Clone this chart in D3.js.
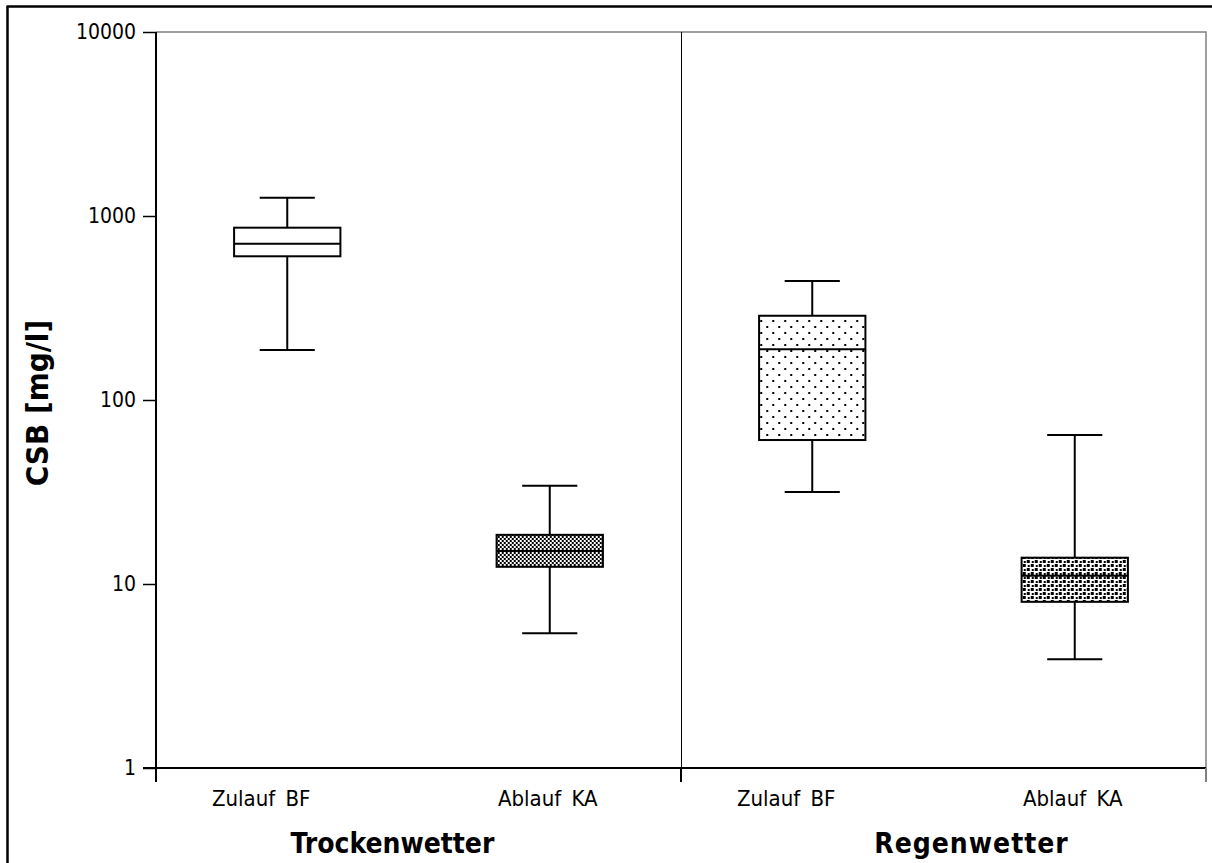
<!DOCTYPE html>
<html>
<head>
<meta charset="utf-8">
<script src="https://cdn.jsdelivr.net/npm/d3@7"></script>
<style>
  html, body { margin: 0; padding: 0; background: #fff; }
  svg { display: block; }
  text { font-family: "DejaVu Sans Condensed", "DejaVu Sans", sans-serif; fill: #000; }
</style>
</head>
<body>
<svg id="chart" width="1212" height="863"></svg>
<script>
// CSB concentrations (mg/l), box statistics per sampling point
const groups = ["Trockenwetter", "Regenwetter"];
const categories = ["Zulauf BF", "Ablauf KA", "Zulauf BF", "Ablauf KA"];
const categoryGroup = [0, 0, 1, 1];
const whiskerLow = [187, 5.4, 31.6, 3.9];
const q1 = [604, 12.4, 60.6, 8.0];
const median = [707, 15.1, 189, 11.1];
const q3 = [864, 18.5, 287, 13.9];
const whiskerHigh = [1258, 34.2, 443, 64.5];
const yTicks = [1, 10, 100, 1000, 10000];

const boxes = categories.map((c, i) => ({
  i, label: c, group: categoryGroup[i],
  lo: whiskerLow[i], q1: q1[i], med: median[i], q3: q3[i], hi: whiskerHigh[i]
}));

const svg = d3.select("#chart");
const plot = { left: 156, right: 1206, top: 32, bottom: 768 };

const y = d3.scaleLog().domain([1, 10000]).range([plot.bottom, plot.top]);
const x = d3.scaleBand().domain(d3.range(categories.length)).range([plot.left, plot.right]);
const xg = d3.scaleBand().domain(d3.range(groups.length)).range([plot.left, plot.right]);

// fill patterns for the boxes
const defs = svg.append("defs");
function pattern(id, size, cells) {
  const p = defs.append("pattern").attr("id", id)
    .attr("patternUnits", "userSpaceOnUse").attr("width", size).attr("height", size);
  p.append("rect").attr("width", size).attr("height", size).attr("fill", "#fff");
  cells.forEach(([cx, cy, w, h]) =>
    p.append("rect").attr("x", cx).attr("y", cy).attr("width", w).attr("height", h).attr("fill", "#000"));
}
pattern("pat-checker", 4, [[0, 0, 2, 2], [2, 2, 2, 2]]);
pattern("pat-dots", 12, [[2, 2, 2, 2], [8, 8, 2, 2]]);
pattern("pat-cross", 8, [[0, 0, 3, 3], [4, 4, 3, 3], [5, 1, 2, 2], [1, 5, 2, 2]]);

const boxFill = ["#fff", "url(#pat-checker)", "url(#pat-dots)", "url(#pat-cross)"];

// outer frame
svg.append("line").attr("x1", 6.5).attr("x2", 1212).attr("y1", 6.5).attr("y2", 6.5)
  .attr("stroke", "#000").attr("stroke-width", 2.5);
svg.append("line").attr("x1", 7.5).attr("x2", 7.5).attr("y1", 6.5).attr("y2", 863)
  .attr("stroke", "#000").attr("stroke-width", 2.5);

// plot area border (top / right)
svg.append("path")
  .attr("d", `M${plot.left},${plot.top}H${plot.right}V${plot.bottom}`)
  .attr("fill", "none").attr("stroke", "#808080").attr("stroke-width", 1.5);

// divider between weather groups
svg.append("line")
  .attr("x1", xg(1) + 0.5).attr("x2", xg(1) + 0.5).attr("y1", plot.top).attr("y2", plot.bottom)
  .attr("stroke", "#000").attr("stroke-width", 1);

// y axis
const yAxis = d3.axisLeft(y).tickValues(yTicks).tickFormat(d3.format("d")).tickSize(13).tickPadding(7);
const ya = svg.append("g").attr("transform", `translate(${plot.left},0)`).call(yAxis);
ya.select(".domain").attr("d", `M0,${plot.top}V${plot.bottom + 14}`).attr("stroke", "#000").attr("stroke-width", 2);
ya.selectAll(".tick line").attr("stroke", "#000").attr("stroke-width", 1.5);
ya.selectAll(".tick text").attr("font-size", 21).attr("font-family", "'DejaVu Sans Condensed', 'DejaVu Sans', sans-serif").attr("fill", "#000");

// x axis: ticks at group boundaries
const bounds = [plot.left, xg(1), plot.right];
svg.append("line").attr("x1", plot.left - 13).attr("x2", plot.right).attr("y1", plot.bottom).attr("y2", plot.bottom)
  .attr("stroke", "#000").attr("stroke-width", 2);
svg.selectAll(".xtick").data(bounds).join("line").attr("class", "xtick")
  .attr("x1", d => d).attr("x2", d => d).attr("y1", plot.bottom).attr("y2", plot.bottom + 14)
  .attr("stroke", (d, i) => i === 2 ? "#808080" : "#000").attr("stroke-width", 2);

// category labels
svg.selectAll(".cat").data(boxes).join("text").attr("class", "cat")
  .attr("x", d => x(d.i) + x.bandwidth() / 2 - (d.i % 2 === 0 ? 26 : 2))
  .attr("y", 806).attr("text-anchor", "middle").attr("font-size", 22)
  .attr("word-spacing", 4)
  .text(d => d.label);

// group labels
svg.selectAll(".grp").data(groups).join("text").attr("class", "grp")
  .attr("x", (d, i) => xg(i) + xg.bandwidth() / 2 + (i === 0 ? -26 : 28))
  .attr("y", 853).attr("text-anchor", "middle").attr("font-size", 28).attr("font-weight", "bold")
  .attr("letter-spacing", (d, i) => i === 0 ? 0 : 1)
  .text(d => d);

// y axis title
svg.append("text")
  .attr("transform", `translate(48,${(plot.top + plot.bottom) / 2 + 3}) rotate(-90)`)
  .attr("text-anchor", "middle").attr("font-size", 31).attr("font-weight", "bold")
  .text("CSB [mg/l]");

// box plots
const boxW = x.bandwidth() * 0.405;
const capW = x.bandwidth() * 0.21;
const g = svg.selectAll(".box").data(boxes).join("g").attr("class", "box")
  .attr("transform", d => `translate(${x(d.i) + x.bandwidth() / 2},0)`);

g.append("line").attr("x1", 0).attr("x2", 0).attr("y1", d => y(d.hi)).attr("y2", d => y(d.q3))
  .attr("stroke", "#000").attr("stroke-width", 2);
g.append("line").attr("x1", 0).attr("x2", 0).attr("y1", d => y(d.q1)).attr("y2", d => y(d.lo))
  .attr("stroke", "#000").attr("stroke-width", 2);
g.append("line").attr("x1", -capW / 2).attr("x2", capW / 2).attr("y1", d => y(d.hi)).attr("y2", d => y(d.hi))
  .attr("stroke", "#000").attr("stroke-width", 2);
g.append("line").attr("x1", -capW / 2).attr("x2", capW / 2).attr("y1", d => y(d.lo)).attr("y2", d => y(d.lo))
  .attr("stroke", "#000").attr("stroke-width", 2);
g.append("rect").attr("x", -boxW / 2).attr("width", boxW)
  .attr("y", d => y(d.q3)).attr("height", d => y(d.q1) - y(d.q3))
  .attr("fill", d => boxFill[d.i]).attr("stroke", "#000").attr("stroke-width", 2);
g.append("line").attr("x1", -boxW / 2).attr("x2", boxW / 2).attr("y1", d => y(d.med)).attr("y2", d => y(d.med))
  .attr("stroke", "#000").attr("stroke-width", 2);
</script>
</body>
</html>
